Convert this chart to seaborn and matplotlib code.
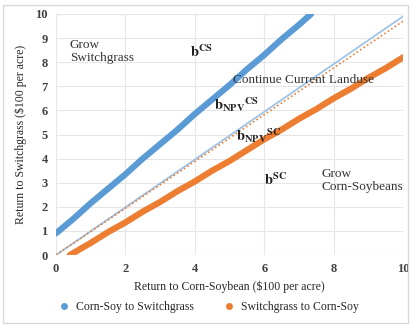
import numpy as np
import pandas as pd
import matplotlib
matplotlib.use("Agg")
import matplotlib.pyplot as plt
import seaborn as sns
from matplotlib.lines import Line2D
from matplotlib.patches import FancyBboxPatch

# Data
cs_x = [0, 0.5, 1.0, 1.5, 2.0, 2.5, 3.0, 3.5, 4.0, 4.5, 5.0, 5.5, 6.0, 6.5, 7.0, 7.35]
cs_y = [0.9, 1.5, 2.15, 2.75, 3.35, 4.0, 4.6, 5.2, 5.85, 6.45, 7.05, 7.7, 8.3, 8.95, 9.55, 10.0]
sc_x = [0.4, 1.0, 1.5, 2.0, 2.5, 3.0, 3.5, 4.0, 4.5, 5.0, 5.5, 6.0, 6.5, 7.0, 7.5, 8.0, 8.5, 9.0, 9.5, 10.0]
sc_y = [0, 0.5, 0.95, 1.35, 1.8, 2.2, 2.65, 3.05, 3.5, 3.9, 4.35, 4.8, 5.2, 5.65, 6.05, 6.5, 6.9, 7.35, 7.75, 8.2]
npv_cs_x = [0, 10]
npv_cs_y = [0, 9.9]
npv_sc_x = [0, 10]
npv_sc_y = [0, 9.7]

BLUE = "#5b9bd5"
ORANGE = "#ed7d31"
LIGHTBLUE = "#9dc3e6"

sns.set_theme(style="white")
plt.rcParams['font.family'] = ['Liberation Serif', 'DejaVu Serif']
plt.rcParams['mathtext.fontset'] = 'stix'

fig = plt.figure(figsize=(4.11, 3.26), dpi=100)
ax = fig.add_axes([56/411, 1-255/326, (403-56)/411, (255-14)/326])

# border around chart
fig.patches.append(FancyBboxPatch((3/411, 3/326), 405/411, 318/326,
                                  boxstyle="square,pad=0", transform=fig.transFigure,
                                  fill=False, edgecolor="#d9d9d9", linewidth=1.0))

df_npv_cs = pd.DataFrame({"x": npv_cs_x, "y": npv_cs_y})
df_npv_sc = pd.DataFrame({"x": npv_sc_x, "y": npv_sc_y})
df_cs = pd.DataFrame({"x": cs_x, "y": cs_y})
df_sc = pd.DataFrame({"x": sc_x, "y": sc_y})

sns.lineplot(data=df_npv_cs, x="x", y="y", ax=ax, color=LIGHTBLUE, lw=1.3, dashes=False)
sns.lineplot(data=df_npv_sc, x="x", y="y", ax=ax, color=ORANGE, lw=1.2, linestyle=(0, (1, 1.5)))
sns.lineplot(data=df_cs, x="x", y="y", ax=ax, color=BLUE, lw=4.5, solid_capstyle="round")
sns.lineplot(data=df_sc, x="x", y="y", ax=ax, color=ORANGE, lw=4.5, solid_capstyle="round")

ax.set_xlim(0, 10)
ax.set_ylim(0, 10)
ax.set_xticks(range(0, 11, 2))
ax.set_yticks(range(0, 11, 1))
ax.grid(True, color="#e6e6e6", lw=0.8)
for s in ax.spines.values():
    s.set_visible(False)
ax.tick_params(axis='both', length=0, labelsize=9, pad=6)
for lab in ax.get_xticklabels() + ax.get_yticklabels():
    lab.set_fontweight("bold")
    lab.set_color("#404040")
ax.set_xlabel("Return to Corn-Soybean ($100 per acre)", fontsize=8.5, labelpad=4)
ax.set_ylabel("Return to Switchgrass ($100 per acre)", fontsize=8.5, labelpad=6)

tk = dict(fontsize=9.5, color="#333333")
ax.text(0.4, 8.95, "Grow\nSwitchgrass", va="top", ha="left", linespacing=1.1, **tk)
ax.text(3.85, 8.2, r"$\mathbf{b^{CS}}$", fontsize=10.5, color="#222222")
ax.text(5.1, 7.15, "Continue Current Landuse", fontsize=9.5, color="#333333")
ax.text(4.55, 6.0, r"$\mathbf{b_{NPV}{}^{CS}}$", fontsize=10.5, color="#222222")
ax.text(5.2, 4.75, r"$\mathbf{b_{NPV}{}^{SC}}$", fontsize=10.5, color="#222222")
ax.text(6.0, 2.9, r"$\mathbf{b^{SC}}$", fontsize=10.5, color="#222222")
ax.text(7.65, 3.6, "Grow\nCorn-Soybeans", va="top", ha="left", linespacing=1.1, **tk)

handles = [Line2D([], [], marker='o', ls='', color=BLUE, markersize=4),
           Line2D([], [], marker='o', ls='', color=ORANGE, markersize=4)]
fig.legend(handles, ["Corn-Soy to Switchgrass", "Switchgrass to Corn-Soy"],
           loc="center", bbox_to_anchor=(0.5, 1-307/326), ncol=2, frameon=False,
           fontsize=8.5, handletextpad=0.0, columnspacing=2.0)

fig.savefig("out.png", dpi=100)
